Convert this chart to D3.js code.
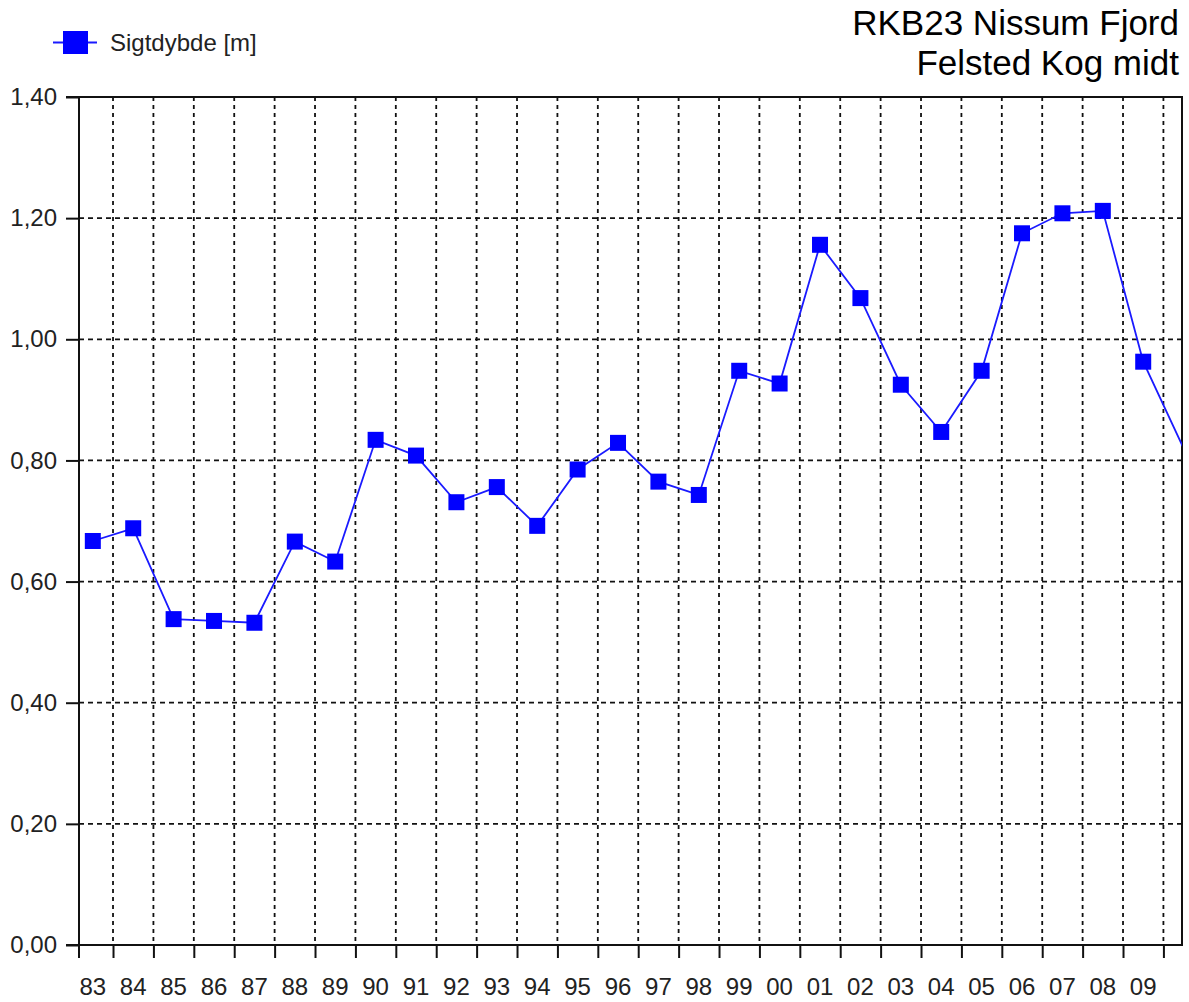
<!DOCTYPE html>
<html>
<head>
<meta charset="utf-8">
<script src="https://cdn.jsdelivr.net/npm/d3@7"></script>
<style>
body { margin: 0; background: #fff; }
svg { display: block; }
text { font-family: "Liberation Sans", Arial, sans-serif; }
</style>
</head>
<body>
<script>
// data (Sigtdybde per year, points sit mid-year)
let years = [1983,1984,1985,1986,1987,1988,1989,1990,1991,1992,1993,1994,1995,1996,1997,1998,1999,2000,2001,2002,2003,2004,2005,2006,2007,2008,2009,2010]
let values = [0.667,0.688,0.538,0.535,0.532,0.666,0.633,0.834,0.808,0.731,0.756,0.692,0.785,0.829,0.765,0.743,0.948,0.927,1.156,1.068,0.925,0.847,0.948,1.175,1.208,1.212,0.963,0.82]
let yearLabels = ["83","84","85","86","87","88","89","90","91","92","93","94","95","96","97","98","99","00","01","02","03","04","05","06","07","08","09"]
let yTicks = [0,0.2,0.4,0.6,0.8,1.0,1.2,1.4]

let w = 1189, h = 1002
let pLeft = 79, pRight = 1182, pTop = 97, pBottom = 945

let svg = d3.select("body").append("svg").attr("width", w).attr("height", h)

let xScale = d3.scaleLinear().domain([1983.158, 2010.46]).range([pLeft, pRight])
let yScale = d3.scaleLinear().domain([0, 1.4]).range([pBottom, pTop])

let data = years.map((y, i) => ({year: y, v: values[i]}))

// grid
svg.append("g").selectAll("line")
    .data(yTicks.filter(d => d > 0 && d < 1.4))
    .enter().append("line")
    .attr("x1", pLeft).attr("x2", pRight)
    .attr("y1", d => yScale(d)).attr("y2", d => yScale(d))
    .attr("stroke", "#111").attr("stroke-width", 1.8)
    .attr("stroke-dasharray", "5,4")

let gridYears = d3.range(1984, 2011)
svg.append("g").selectAll("line")
    .data(gridYears)
    .enter().append("line")
    .attr("x1", d => xScale(d)).attr("x2", d => xScale(d))
    .attr("y1", pTop).attr("y2", pBottom)
    .attr("stroke", "#111").attr("stroke-width", 1.8)
    .attr("stroke-dasharray", "4,4")

// axes
let yAxis = d3.axisLeft(yScale)
    .tickValues(yTicks)
    .tickSize(13)
    .tickPadding(9)
    .tickFormat(d => d3.format(".2f")(d).replace(".", ","))
let yg = svg.append("g")
    .attr("transform", "translate(" + pLeft + ",0)")
    .call(yAxis)
yg.select(".domain").remove()
yg.selectAll("line").attr("stroke", "#111").attr("stroke-width", 2)
yg.selectAll("text").attr("font-size", 24).attr("fill", "#222")
    .attr("font-family", "Liberation Sans, Arial, sans-serif")

let xAxis = d3.axisBottom(xScale)
    .tickValues(gridYears)
    .tickSize(13)
    .tickFormat("")
let xg = svg.append("g")
    .attr("transform", "translate(0," + pBottom + ")")
    .call(xAxis)
xg.select(".domain").remove()
xg.selectAll("line").attr("stroke", "#111").attr("stroke-width", 2)

svg.append("g").selectAll("text")
    .data(yearLabels)
    .enter().append("text")
    .attr("x", (d, i) => xScale(1983.5 + i))
    .attr("y", 995)
    .attr("text-anchor", "middle")
    .attr("font-size", 24)
    .attr("fill", "#222")
    .text(d => d)

// frame
svg.append("line").attr("x1", pLeft).attr("x2", pLeft).attr("y1", pTop).attr("y2", pBottom + 13)
    .attr("stroke", "#111").attr("stroke-width", 2)
svg.append("line").attr("x1", pLeft - 13).attr("x2", pRight + 1).attr("y1", pBottom).attr("y2", pBottom)
    .attr("stroke", "#111").attr("stroke-width", 2)
svg.append("line").attr("x1", pLeft - 13).attr("x2", pRight + 1).attr("y1", pTop).attr("y2", pTop)
    .attr("stroke", "#111").attr("stroke-width", 2)
svg.append("line").attr("x1", pRight).attr("x2", pRight).attr("y1", pTop).attr("y2", pBottom)
    .attr("stroke", "#111").attr("stroke-width", 2)

// series
svg.append("clipPath").attr("id", "plot")
    .append("rect").attr("x", pLeft).attr("y", pTop).attr("width", pRight - pLeft).attr("height", pBottom - pTop)

let line = d3.line().x(d => xScale(d.year + 0.5)).y(d => yScale(d.v))
svg.append("path")
    .datum(data)
    .attr("clip-path", "url(#plot)")
    .attr("d", line)
    .attr("fill", "none")
    .attr("stroke", "#1a1aff")
    .attr("stroke-width", 1.8)

svg.append("g").selectAll("rect")
    .data(data.filter(d => xScale(d.year + 0.5) < pRight))
    .enter().append("rect")
    .attr("x", d => xScale(d.year + 0.5) - 8)
    .attr("y", d => yScale(d.v) - 8)
    .attr("width", 16).attr("height", 16)
    .attr("fill", "#0000ff")

// legend
svg.append("line").attr("x1", 53).attr("x2", 97).attr("y1", 42.5).attr("y2", 42.5)
    .attr("stroke", "#1a1aff").attr("stroke-width", 1.8)
svg.append("rect").attr("x", 63).attr("y", 31).attr("width", 25).attr("height", 23).attr("fill", "#0000ff")
svg.append("text").attr("x", 110).attr("y", 51).attr("font-size", 24).attr("fill", "#222")
    .text("Sigtdybde [m]")

// title
svg.append("text").attr("x", 1179).attr("y", 35).attr("text-anchor", "end")
    .attr("font-size", 35).attr("fill", "#000").text("RKB23 Nissum Fjord")
svg.append("text").attr("x", 1179).attr("y", 75).attr("text-anchor", "end")
    .attr("font-size", 35).attr("fill", "#000").text("Felsted Kog midt")
</script>
</body>
</html>
